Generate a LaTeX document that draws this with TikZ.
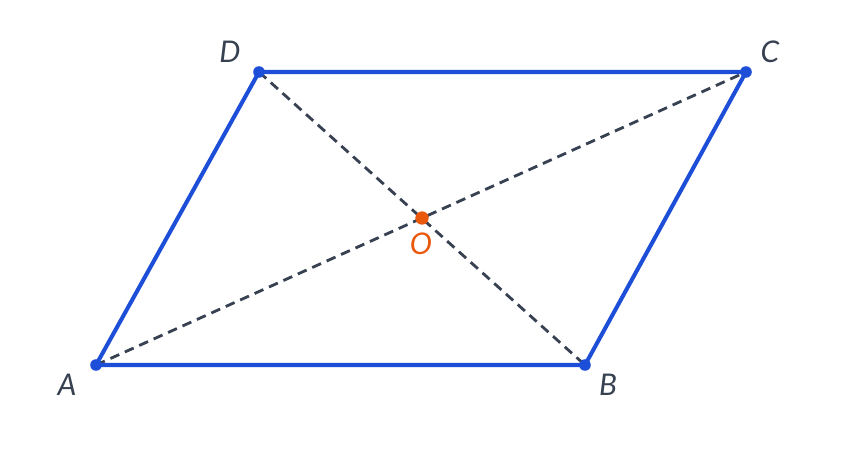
\documentclass[tikz,border=0pt]{standalone}
\usepackage{fontspec}
\setsansfont{Lato}
\usetikzlibrary{positioning}
\definecolor{sideblue}{HTML}{1D4ED8}
\definecolor{diaggray}{HTML}{374151}
\definecolor{midorange}{HTML}{EA580C}
\tikzset{
	side/.style={draw=sideblue,line width=2.3pt,line cap=round,line join=round},
	diag/.style={draw=diaggray,line width=1.6pt,dash pattern=on 5.5pt off 3.5pt},
	vertex/.style={circle,fill=sideblue,inner sep=0pt,minimum size=6.6pt},
	vlabel/.style={font=\sffamily\itshape\fontsize{17}{20}\selectfont,text=diaggray,inner sep=0pt}
}

\begin{document}
\begin{tikzpicture}[x=0.02cm,y=-0.02cm]
		\useasboundingbox (0,0) rectangle (843,453);
		\coordinate (A) at (96,365);
		\coordinate (B) at (585,365);
		\coordinate (C) at (746,72);
		\coordinate (D) at (259,72);
		\coordinate (O) at (422,218);
		
		\draw[diag] (A) -- (C);
		\draw[diag] (D) -- (B);
		\draw[side] (A) -- (B) -- (C) -- (D) -- cycle;
		
		\node[vertex] (dotA) at (A) {};
		\node[vertex] (dotB) at (B) {};
		\node[vertex] (dotC) at (C) {};
		\node[vertex] (dotD) at (D) {};
		\node[vertex,fill=midorange,minimum size=7.6pt] (dotO) at (O) {};
		
		\node[vlabel] (labA) at (67,385) {A};
		\node[vlabel] (labB) at (608,385) {B};
		\node[vlabel] (labC) at (770,52) {C};
		\node[vlabel] (labD) at (230,52) {D};
		\node[vlabel,text=midorange] (labO) at (421,244) {O};
\end{tikzpicture}
\end{document}
